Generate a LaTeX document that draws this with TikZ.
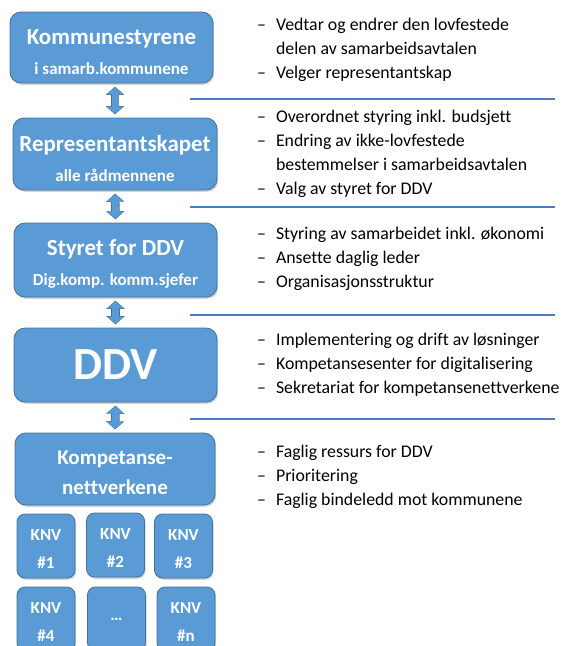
\documentclass[tikz,border=0pt]{standalone}
\usepackage{fontspec}
\setmainfont{Carlito}[Ligatures=CommonOff]
\usetikzlibrary{arrows.meta,shadows}

\definecolor{boxblue}{HTML}{5B9BD5}
\definecolor{boxedge}{HTML}{41719C}
\definecolor{lineblue}{HTML}{4A7EBB}

\tikzset{
	orgbox/.style={rounded corners=11pt, fill=boxblue, draw=boxedge, line width=0.8pt, text=white, align=center, inner sep=0pt,
		drop shadow={opacity=0.35, shadow xshift=1.2pt, shadow yshift=-1.8pt}},
	knvbox/.style={orgbox, rounded corners=8pt, minimum width=58pt, minimum height=64pt, font=\bfseries\fontsize{17}{28}\selectfont},
	updown/.style={line width=7pt, draw=boxblue, {Triangle[length=7pt,width=16pt]}-{Triangle[length=7pt,width=16pt]}, shorten <=4pt, shorten >=4pt,
		preaction={draw=boxedge, line width=8.6pt, {Triangle[length=8.2pt,width=18pt]}-{Triangle[length=8.2pt,width=18pt]}, shorten <=3.2pt, shorten >=3.2pt}},
	duties/.style={anchor=west, inner sep=0pt, font=\fontsize{17.8}{24}\selectfont},
	divider/.style={lineblue, line width=1.3pt},
}
\newcommand{\sub}[1]{{\fontsize{17}{20}\selectfont #1}}
\newcommand{\tallstrut}{\rule{0pt}{1.05em}}

\begin{document}
\begin{tikzpicture}[x=1pt, y=-1pt]
		\useasboundingbox (0,0) rectangle (565,646);

		% organ boxes, left column
		\node[orgbox, minimum width=203pt, minimum height=71pt, font=\bfseries\fontsize{23}{30}\selectfont] (kom) at (111.5,47.5) {\tallstrut Kommunestyrene\\\sub{i samarb.kommunene}};
		\node[orgbox, minimum width=204pt, minimum height=72pt, font=\bfseries\fontsize{23}{30}\selectfont] (rep) at (115,154) {\tallstrut Representantskapet\\\sub{alle rådmennene}};
		\node[orgbox, minimum width=203pt, minimum height=74pt, font=\bfseries\fontsize{23}{30}\selectfont] (sty) at (115.5,260) {\tallstrut Styret for DDV\\\sub{Dig.komp. komm.sjefer}};
		\node[orgbox, minimum width=203pt, minimum height=74pt, font=\bfseries\fontsize{46}{50}\selectfont] (ddv) at (115.5,365) {DDV};
		\node[orgbox, minimum width=200pt, minimum height=72pt, font=\bfseries\fontsize{21}{30}\selectfont] (knv) at (115,469) {\tallstrut Kompetanse-\\nettverkene};

		% the networks
		\node[knvbox] (n1) at (46,546) {\tallstrut KNV\\\#1};
		\node[knvbox] (n2) at (115.5,545) {\tallstrut KNV\\\#2};
		\node[knvbox] (n3) at (183.5,546) {\tallstrut KNV\\\#3};
		\node[knvbox] (n4) at (46,619) {\tallstrut KNV\\\#4};
		\node[knvbox] (n5) at (116.5,619) {…};
		\node[knvbox] (nn) at (186,619) {\tallstrut KNV\\\#n};

		% arrows between levels
		\draw[updown] (kom.south -| rep.north) -- (rep.north);
		\draw[updown] (rep.south) -- (sty.north);
		\draw[updown] (sty.south) -- (ddv.north);
		\draw[updown] (ddv.south) -- (knv.north);

		% divider lines, right column
		\draw[divider] (190,99) -- (555,99);
		\draw[divider] (190,207) -- (555,207);
		\draw[divider] (190,315) -- (555,315);
		\draw[divider] (190,419) -- (555,419);

		% tasks per level
		\node[duties] (t1) at (257,49.5) {\begin{tabular}{@{}l@{\hspace{10pt}}l@{}}
			– & Vedtar og endrer den lovfestede\\
			  & delen av samarbeidsavtalen\\
			– & Velger representantskap\end{tabular}};
		\node[duties] (t2) at (257,154) {\begin{tabular}{@{}l@{\hspace{10pt}}l@{}}
			– & Overordnet styring inkl. budsjett\\
			– & Endring av ikke-lovfestede\\
			  & bestemmelser i samarbeidsavtalen\\
			– & Valg av styret for DDV\end{tabular}};
		\node[duties] (t3) at (257,259) {\begin{tabular}{@{}l@{\hspace{10pt}}l@{}}
			– & Styring av samarbeidet inkl. økonomi\\
			– & Ansette daglig leder\\
			– & Organisasjonsstruktur\end{tabular}};
		\node[duties] (t4) at (257,365) {\begin{tabular}{@{}l@{\hspace{10pt}}l@{}}
			– & Implementering og drift av løsninger\\
			– & Kompetansesenter for digitalisering\\
			– & Sekretariat for kompetansenettverkene\end{tabular}};
		\node[duties] (t5) at (257,477) {\begin{tabular}{@{}l@{\hspace{10pt}}l@{}}
			– & Faglig ressurs for DDV\\
			– & Prioritering\\
			– & Faglig bindeledd mot kommunene\end{tabular}};
	\end{tikzpicture}
\end{document}
